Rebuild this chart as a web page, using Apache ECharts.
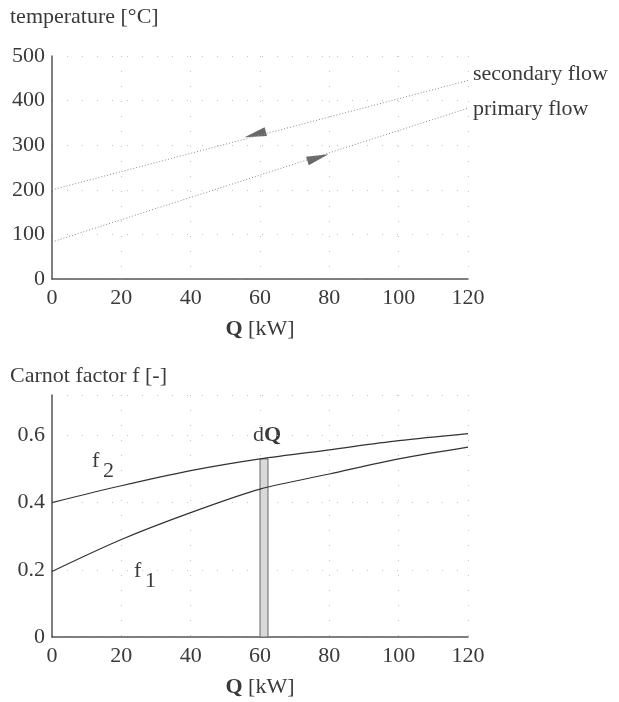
<!DOCTYPE html>
<html>
<head>
<meta charset="utf-8">
<script src="https://cdn.jsdelivr.net/npm/echarts@6/dist/echarts.min.js"></script>
<style>
  html, body { margin: 0; padding: 0; background: #fff; }
  #chart { width: 619px; height: 702px; }
</style>
</head>
<body>
<div id="chart"></div>
<script>
// top chart: temperature vs Q
const qEnds = [0, 120]
const secondaryFlow = [200, 445]
const primaryFlow = [83, 383]
// arrow positions [Q, temp]
const secondaryArrow = [58.6, 324]
const primaryArrow = [76.7, 272]

// bottom chart: Carnot factor vs Q
const qValues = [0, 20, 40, 60, 80, 100, 120]
const f1 = [0.195, 0.29, 0.37, 0.44, 0.485, 0.53, 0.565]
const f2 = [0.40, 0.45, 0.495, 0.53, 0.557, 0.584, 0.605]
const dQ = [60, 62.3]
const dQTop = 0.53

const serif = '"Liberation Serif", "DejaVu Serif", serif'
const ink = '#3a3a3a'
const fs = 22

function pairs (xs, ys) {
  return xs.map((x, i) => [x, ys[i]])
}

function xAxisOpt (gridIndex) {
  return {
    type: 'value',
    gridIndex: gridIndex,
    min: 0,
    max: 120,
    interval: 20,
    name: '{b|Q} [kW]',
    nameLocation: 'middle',
    nameGap: 39,
    nameTextStyle: {
      fontFamily: serif,
      fontSize: fs,
      color: ink,
      rich: {
        b: { fontFamily: serif, fontSize: fs, fontWeight: 'bold', color: ink }
      }
    },
    axisLine: { show: true, lineStyle: { color: '#555', width: 1.5 } },
    axisTick: { show: false },
    axisLabel: { fontFamily: serif, fontSize: fs, color: ink, margin: 8 },
    splitLine: { show: true, lineStyle: { color: '#c4c4c4', type: [1, 14], width: 1 } }
  }
}

let myChart = echarts.init(document.getElementById('chart'))
myChart.setOption({
  animation: false,
  grid: [
    { left: 52, top: 56, width: 416, height: 223 },
    { left: 52, top: 395, width: 416, height: 242 }
  ],
  xAxis: [xAxisOpt(0), xAxisOpt(1)],
  yAxis: [
    {
      type: 'value',
      gridIndex: 0,
      min: 0,
      max: 500,
      interval: 100,
      axisLine: { show: true, lineStyle: { color: '#555', width: 1.5 } },
      axisTick: { show: false },
      axisLabel: { fontFamily: serif, fontSize: fs, color: ink, margin: 7 },
      splitLine: { show: true, lineStyle: { color: '#c4c4c4', type: [1, 14], width: 1 } }
    },
    {
      type: 'value',
      gridIndex: 1,
      min: 0,
      max: 0.72,
      interval: 0.2,
      axisLine: { show: true, lineStyle: { color: '#555', width: 1.5 } },
      axisTick: { show: false },
      axisLabel: {
        fontFamily: serif,
        fontSize: fs,
        color: ink,
        margin: 7,
        showMaxLabel: false,
        formatter: v => (v === 0 ? '0' : v.toFixed(1))
      },
      splitLine: { show: true, lineStyle: { color: '#c4c4c4', type: [1, 14], width: 1 } }
    }
  ],
  graphic: [
    {
      type: 'text',
      left: 10,
      top: 6,
      style: { text: 'temperature [°C]', font: fs + 'px ' + serif, fill: ink }
    },
    {
      type: 'text',
      left: 10,
      top: 365,
      style: { text: 'Carnot factor f [-]', font: fs + 'px ' + serif, fill: ink }
    },
    {
      type: 'text',
      left: 92,
      top: 450,
      style: { text: 'f', font: fs + 'px ' + serif, fill: ink }
    },
    {
      type: 'text',
      left: 103,
      top: 460,
      style: { text: '2', font: fs + 'px ' + serif, fill: ink }
    },
    {
      type: 'text',
      left: 134,
      top: 560,
      style: { text: 'f', font: fs + 'px ' + serif, fill: ink }
    },
    {
      type: 'text',
      left: 145,
      top: 570,
      style: { text: '1', font: fs + 'px ' + serif, fill: ink }
    },
    {
      type: 'text',
      left: 253,
      top: 424,
      style: {
        text: '{n|d}{b|Q}',
        rich: {
          n: { fontFamily: serif, fontSize: fs, fill: ink, color: ink },
          b: { fontFamily: serif, fontSize: fs, fontWeight: 'bold', fill: ink, color: ink }
        }
      }
    }
  ],
  series: [
    {
      name: 'secondary flow',
      type: 'line',
      xAxisIndex: 0,
      yAxisIndex: 0,
      data: pairs(qEnds, secondaryFlow),
      symbol: 'none',
      lineStyle: { color: '#888', width: 1, type: [1, 2] },
      endLabel: { show: true, formatter: '{a}', fontFamily: serif, fontSize: fs, color: ink, distance: 5, offset: [0, -6] }
    },
    {
      name: 'primary flow',
      type: 'line',
      xAxisIndex: 0,
      yAxisIndex: 0,
      data: pairs(qEnds, primaryFlow),
      symbol: 'none',
      lineStyle: { color: '#888', width: 1, type: [1, 2] },
      endLabel: { show: true, formatter: '{a}', fontFamily: serif, fontSize: fs, color: ink, distance: 5, offset: [0, 1] }
    },
    {
      type: 'scatter',
      xAxisIndex: 0,
      yAxisIndex: 0,
      symbol: 'triangle',
      symbolSize: [9, 22],
      itemStyle: { color: '#444' },
      data: [
        { value: secondaryArrow, symbolRotate: 104.7 },
        { value: primaryArrow, symbolRotate: -72.3 }
      ]
    },
    {
      name: 'f2',
      type: 'line',
      xAxisIndex: 1,
      yAxisIndex: 1,
      data: pairs(qValues, f2),
      smooth: 0.3,
      symbol: 'none',
      lineStyle: { color: '#333', width: 1.2 },
      markArea: {
        silent: true,
        itemStyle: { color: '#d9d9d9', borderColor: '#666', borderWidth: 1 },
        data: [[{ xAxis: dQ[0], yAxis: 0 }, { xAxis: dQ[1], yAxis: dQTop }]]
      }
    },
    {
      name: 'f1',
      type: 'line',
      xAxisIndex: 1,
      yAxisIndex: 1,
      data: pairs(qValues, f1),
      smooth: 0.3,
      symbol: 'none',
      lineStyle: { color: '#333', width: 1.2 }
    }
  ]
})
</script>
</body>
</html>
